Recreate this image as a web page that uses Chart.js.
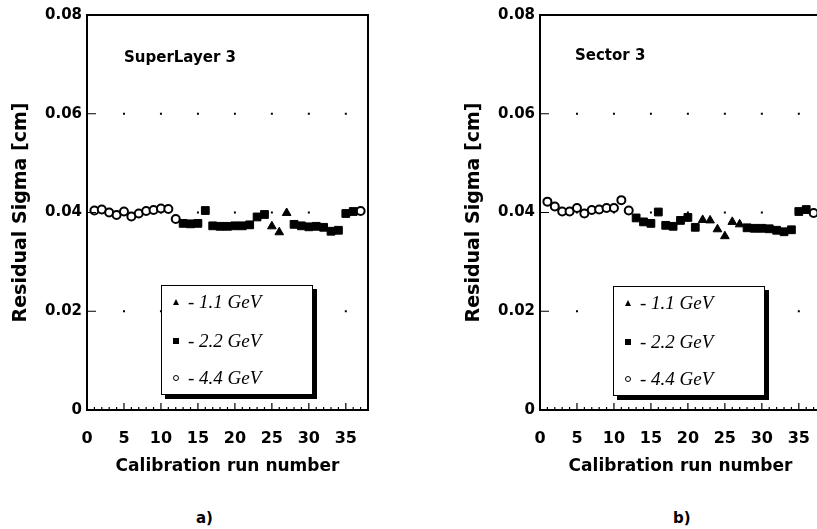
<!DOCTYPE html>
<html>
<head>
<meta charset="utf-8">
<script src="https://cdn.jsdelivr.net/npm/chart.js@4.4.1/dist/chart.umd.min.js"></script>
<style>
  html, body { margin: 0; padding: 0; background: #fff; }
  body { width: 817px; height: 529px; overflow: hidden; position: relative; font-family: 'DejaVu Sans', sans-serif; color: #000; }
  .panel { position: absolute; top: 0; width: 400px; height: 480px; }
  #wrapA { left: 0; }
  #wrapB { left: 453px; }
  .tag { position: absolute; font-weight: bold; font-size: 15px; white-space: nowrap; }
  .leg { position: absolute; width: 150px; height: 108px; border: 1.5px solid #000; box-shadow: 4px 4px 0 #000; background: #fff; }
  .row { position: absolute; left: 0; height: 22px; width: 150px; }
  .row span.txt { position: absolute; left: 26px; top: 0; font-family: 'Liberation Serif', serif; font-style: italic; font-size: 19px; line-height: 22px; }
  .sym { position: absolute; left: 11px; top: 8px; }
  .tri { width: 0; height: 0; border-left: 3.5px solid transparent; border-right: 3.5px solid transparent; border-bottom: 6px solid #000; }
  .sq { width: 6px; height: 6px; background: #000; }
  .ci { width: 4px; height: 4px; border: 1.5px solid #000; border-radius: 50%; }
</style>
</head>
<body>
<div class="panel" id="wrapA"><canvas id="chartA" width="400" height="480"></canvas></div>
<div class="panel" id="wrapB"><canvas id="chartB" width="400" height="480"></canvas></div>

<div class="tag" style="left:124px; top:48px;">SuperLayer 3</div>
<div class="tag" style="left:575px; top:46px;">Sector 3</div>
<div class="tag" style="left:196px; top:509px;">a)</div>
<div class="tag" style="left:673px; top:509px;">b)</div>

<div class="leg" style="left:161px; top:285px;">
  <div class="row" style="top:5px;"><div class="sym tri"></div><span class="txt">- 1.1 GeV</span></div>
  <div class="row" style="top:44px;"><div class="sym sq"></div><span class="txt">- 2.2 GeV</span></div>
  <div class="row" style="top:81px;"><div class="sym ci"></div><span class="txt">- 4.4 GeV</span></div>
</div>
<div class="leg" style="left:613px; top:286px;">
  <div class="row" style="top:5px;"><div class="sym tri"></div><span class="txt">- 1.1 GeV</span></div>
  <div class="row" style="top:44px;"><div class="sym sq"></div><span class="txt">- 2.2 GeV</span></div>
  <div class="row" style="top:81px;"><div class="sym ci"></div><span class="txt">- 4.4 GeV</span></div>
</div>

<script>
// axes
const xTicks = [0, 5, 10, 15, 20, 25, 30, 35];
const yTicks = [0, 0.02, 0.04, 0.06, 0.08];
const gridRows = [0.02, 0.04, 0.06];

// a) SuperLayer 3
const runsA11 = [25, 26, 27];
const sigA11 = [0.0372, 0.0360, 0.0399];
const runsA22 = [13, 14, 15, 16, 17, 18, 19, 20, 21, 22, 23, 24, 28, 29, 30, 31, 32, 33, 34, 35, 36];
const sigA22 = [0.0378, 0.0377, 0.0378, 0.0404, 0.0373, 0.0372, 0.0372, 0.0373, 0.0373, 0.0375, 0.0391, 0.0396,
                0.0376, 0.0373, 0.0371, 0.0372, 0.0370, 0.0362, 0.0364, 0.0398, 0.0402];
const runsA44 = [1, 2, 3, 4, 5, 6, 7, 8, 9, 10, 11, 12, 37];
const sigA44 = [0.0404, 0.0406, 0.0400, 0.0395, 0.0402, 0.0392, 0.0398, 0.0403, 0.0405, 0.0408, 0.0407, 0.0387, 0.0403];

// b) Sector 3
const runsB11 = [22, 23, 24, 25, 26, 27];
const sigB11 = [0.0385, 0.0384, 0.0366, 0.0352, 0.0381, 0.0376];
const runsB22 = [13, 14, 15, 16, 17, 18, 19, 20, 21, 28, 29, 30, 31, 32, 33, 34, 35, 36];
const sigB22 = [0.0389, 0.0381, 0.0378, 0.0401, 0.0374, 0.0372, 0.0384, 0.0390, 0.0370,
                0.0369, 0.0368, 0.0368, 0.0367, 0.0364, 0.0361, 0.0365, 0.0402, 0.0406];
const runsB44 = [1, 2, 3, 4, 5, 6, 7, 8, 9, 10, 11, 12, 37];
const sigB44 = [0.0422, 0.0412, 0.0402, 0.0402, 0.0409, 0.0398, 0.0405, 0.0406, 0.0409, 0.0409, 0.0425, 0.0404, 0.0399];

function pts (runs, sig) {
  const out = [];
  for (let i = 0; i < runs.length; i++) {
    out.push({ x: runs[i], y: sig[i] });
  }
  return out;
}

// dotted grid, inward ticks, frame
const framePlugin = {
  id: 'frame',
  beforeDatasetsDraw (chart) {
    const ctx = chart.ctx;
    const xs = chart.scales.x;
    const ys = chart.scales.y;
    ctx.save();
    ctx.fillStyle = '#000';
    for (let j = 0; j < gridRows.length; j++) {
      const py = ys.getPixelForValue(gridRows[j]);
      for (let i = 1; i < xTicks.length; i++) {
        const px = xs.getPixelForValue(xTicks[i]);
        ctx.fillRect(px - 1, py - 1, 2, 2);
      }
    }
    ctx.restore();
  },
  afterDatasetsDraw (chart) {
    const ctx = chart.ctx;
    const a = chart.chartArea;
    const xs = chart.scales.x;
    const ys = chart.scales.y;
    ctx.save();
    ctx.strokeStyle = '#000';
    ctx.lineWidth = 1.2;
    ctx.beginPath();
    for (let v = 1; v <= 38; v++) {
      const px = xs.getPixelForValue(v);
      const len = (v % 5 === 0) ? 7 : 3;
      ctx.moveTo(px, a.bottom);
      ctx.lineTo(px, a.bottom - len);
    }
    for (let j = 0; j < gridRows.length; j++) {
      const py = ys.getPixelForValue(gridRows[j]);
      ctx.moveTo(a.left, py);
      ctx.lineTo(a.left + 9, py);
    }
    ctx.stroke();
    ctx.lineWidth = 2;
    ctx.strokeRect(a.left, a.top, a.right - a.left, a.bottom - a.top);
    ctx.restore();
  }
};

const tickFont = { family: 'DejaVu Sans', weight: 'bold', size: 16 };
const xTitleFont = { family: 'DejaVu Sans', weight: 'bold', size: 17 };
const yTitleFont = { family: 'DejaVu Sans', weight: 'bold', size: 19 };

function makeChart (canvas, d11, d22, d44) {
  return new Chart(canvas, {
    type: 'scatter',
    data: {
      datasets: [
        { label: '1.1 GeV', data: d11, pointStyle: 'triangle', pointRadius: 5,
          backgroundColor: '#000', borderColor: '#000', borderWidth: 1 },
        { label: '2.2 GeV', data: d22, pointStyle: 'rect', pointRadius: 5.5,
          backgroundColor: '#000', borderColor: '#000', borderWidth: 1 },
        { label: '4.4 GeV', data: d44, pointStyle: 'circle', pointRadius: 4,
          backgroundColor: '#fff', borderColor: '#000', borderWidth: 2 },
      ],
    },
    options: {
      responsive: false,
      animation: false,
      layout: { padding: { top: 15, right: 32, left: 0, bottom: 0 } },
      plugins: { legend: { display: false }, tooltip: { enabled: false } },
      scales: {
        x: {
          type: 'linear', min: 0, max: 38,
          grid: { display: false, drawTicks: false },
          border: { display: false },
          afterBuildTicks: function (s) {
            const t = [];
            for (let i = 0; i < xTicks.length; i++) t.push({ value: xTicks[i] });
            s.ticks = t;
          },
          afterFit: function (s) { s.height = 70; },
          ticks: { color: '#000', padding: 19, font: tickFont, maxRotation: 0, autoSkip: false },
          title: { display: true, text: 'Calibration run number', color: '#000', font: xTitleFont,
                   padding: { top: 0, bottom: 3 } },
        },
        y: {
          type: 'linear', min: 0, max: 0.08,
          grid: { display: false, drawTicks: false },
          border: { display: false },
          afterBuildTicks: function (s) {
            const t = [];
            for (let i = 0; i < yTicks.length; i++) t.push({ value: yTicks[i] });
            s.ticks = t;
          },
          afterFit: function (s) { s.width = 87; },
          ticks: {
            color: '#000', padding: 5, font: { family: 'DejaVu Sans', weight: 'bold', size: 15 },
            callback: function (v) { return v === 0 ? '0' : v.toFixed(2); },
          },
          title: { display: true, text: 'Residual Sigma [cm]', color: '#000', font: yTitleFont,
                   padding: { top: 10, bottom: 0 } },
        },
      },
    },
    plugins: [framePlugin],
  });
}

makeChart(document.getElementById('chartA'), pts(runsA11, sigA11), pts(runsA22, sigA22), pts(runsA44, sigA44));
makeChart(document.getElementById('chartB'), pts(runsB11, sigB11), pts(runsB22, sigB22), pts(runsB44, sigB44));
</script>
</body>
</html>
